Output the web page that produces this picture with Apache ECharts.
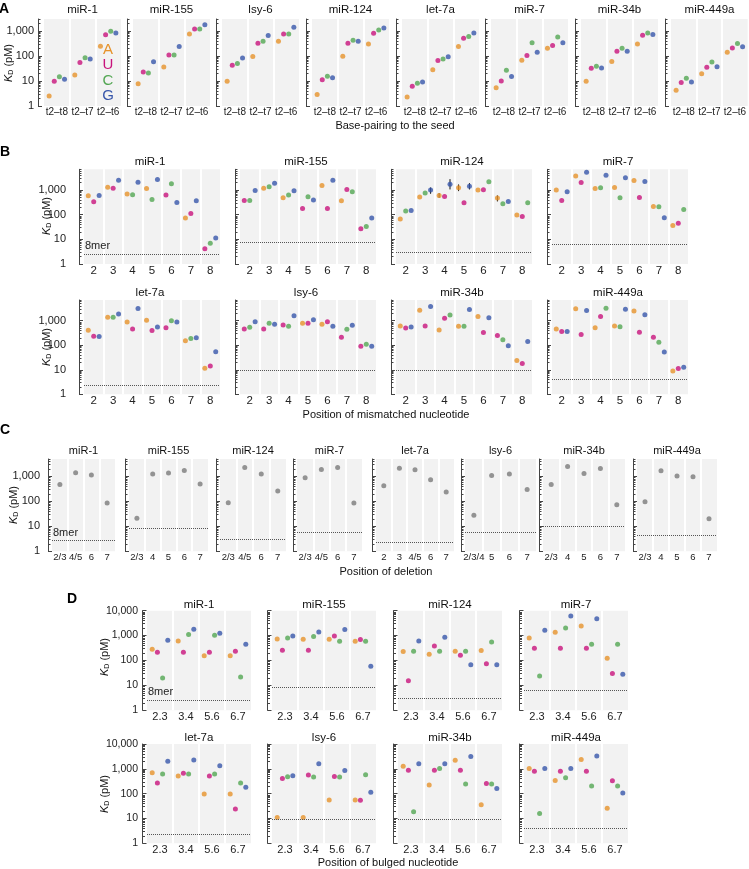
<!DOCTYPE html>
<html><head><meta charset="utf-8">
<script src="https://cdn.jsdelivr.net/npm/echarts@6/dist/echarts.min.js"></script>
<style>html,body{margin:0;padding:0;background:#fff}#c{width:749px;height:869px}</style>
</head><body><div id="c"></div>
<script>
const FONT = '"Liberation Sans", Arial, Helvetica, sans-serif';
const NUC_COLOR = {A:'#E6922A', U:'#C8137C', C:'#52A652', G:'#3756AA'};
const NUC_ORDER = ['A','U','C','G'];

// ---------- Panel A: base-pairing to the seed (values: [group][A,U,C,G], pM)
const A_MIRNAS = ['miR-1','miR-155','lsy-6','miR-124','let-7a','miR-7','miR-34b','miR-449a'];
const A_GROUPS = ['t2–t8','t2–t7','t2–t6'];
const A_miR1    = [[2.5,9.7,14.9,11.6],[17.3,55,85,75],[246,705,980,830]];
const A_miR155  = [[7.8,23,21,59],[36,108,108,238],[760,1200,1200,1780]];
const A_lsy6    = [[9.7,43,50,82],[95,325,390,650],[390,760,760,1400]];
const A_miR124  = [[2.9,11.3,15.3,13.6],[98,325,425,390],[304,810,1100,1310]];
const A_let7a   = [[2.3,6.1,8.1,9.1],[28,66,75,93],[238,510,595,830]];
const A_miR7    = [[5.4,10,27,15],[68,105,335,142],[205,261,575,335]];
const A_miR34b  = [[9.7,32,39,33],[60,156,205,156],[304,673,830,716]];
const A_miR449a = [[4.3,8.6,12.8,9.1],[19.5,35,57,37],[142,210,313,231]];
const A_VALUES = [A_miR1,A_miR155,A_lsy6,A_miR124,A_let7a,A_miR7,A_miR34b,A_miR449a];

// ---------- Panel B: mismatches (nucleotides per position, values per position)
const B_MIRNAS = ['miR-1','miR-155','miR-124','miR-7','let-7a','lsy-6','miR-34b','miR-449a'];
const B_POSITIONS = ['2','3','4','5','6','7','8'];
const B_miR1_nt = ['AUG','AUG','ACG','ACG','UCG','AUG','UCG'];
const B_miR1 = [[590,337,608],[1320,1200,2540],[690,650,2110],[1170,420,2700],[627,1800,316],[73,113,370],[4.2,6.9,11.3]];
const B_miR155_nt = ['UCG','ACG','ACG','UCG','AUG','AUC','UCG'];
const B_miR155 = [[380,380,970],[1200,1365,1900],[490,627,940],[180,537,393],[1550,180,2540],[370,1060,850],[27,33,73]];
const B_miR124_nt = ['ACG','ACG','AUG','AUG','AUC','ACG','AUC'];
const B_miR124 = [[67,141,150],[520,755,1000],[608,553,1750],[1240,306,1450],[1000,1030,2180],[474,280,347],[97,85,306]];
const B_miR7_nt = ['AUG','AUG','ACG','ACG','AUG','ACG','AUC'];
const B_miR7 = [[1000,380,860],[3700,2050,5370],[1170,1240,4060],[1280,490,3160],[2460,505,2240],[218,211,75],[37,45,164]];
const B_let7a_nt = ['AUG','ACG','AUG','AUG','UCG','ACG','AUG'];
const B_let7a = [[408,234,226],[1370,1370,1860],[885,462,3160],[1035,396,557],[523,1000,885],[151,188,200],[11.6,14.4,54]];
const B_lsy6_nt = ['UCG','UCG','UCG','AUG','AUG','UCG','UCG'];
const B_lsy6 = [[462,540,915],[462,783,713],[670,593,1600],[783,783,1100],[713,915,593],[213,448,650],[90,111,92]];
const B_miR34b_nt = ['AUG','AUG','AUC','ACG','AUG','UCG','AUG'];
const B_miR34b = [[611,507,557],[2700,611,3800],[421,1250,1700],[593,593,2880],[1500,329,1330],[249,166,95],[24,18,142]];
const B_miR449a_nt = ['AUG','AUG','AUC','ACG','AUG','UCG','AUG'];
const B_miR449a = [[462,361,361],[3060,273,2620],[523,1500,3260],[611,574,2970],[2470,339,1750],[213,134,53],[9.0,11.2,12.7]];
const B_NT = [B_miR1_nt,B_miR155_nt,B_miR124_nt,B_miR7_nt,B_let7a_nt,B_lsy6_nt,B_miR34b_nt,B_miR449a_nt];
const B_VALUES = [B_miR1,B_miR155,B_miR124,B_miR7,B_let7a,B_lsy6,B_miR34b,B_miR449a];
const B_8MER = [2.6,8.0,3.0,6.3,2.3,9.6,9.6,4.2];
// error bars for miR-124: [position index, slot, low, high]
const B_miR124_err = [[1,2,710,1280],[2,0,489,755],[2,2,1064,2790],[3,0,910,1700],[3,2,1064,1920],[5,0,347,608]];

// ---------- Panel C: deletions
const C_MIRNAS = ['miR-1','miR-155','miR-124','miR-7','let-7a','lsy-6','miR-34b','miR-449a'];
const C_miR1_pos = ['2/3','4/5','6','7'];          const C_miR1 = [479,1400,1130,86];
const C_miR155_pos = ['2/3','4','5','6','7'];      const C_miR155 = [21,1240,1360,1740,493];
const C_miR124_pos = ['2/3','4/5','6','7'];        const C_miR124 = [88,2290,1240,259];
const C_miR7_pos = ['2/3','4/5','6','7'];          const C_miR7 = [885,1900,2290,86];
const C_let7a_pos = ['2','3','4/5','6','7'];       const C_let7a = [423,2150,1850,736,236];
const C_lsy6_pos = ['2/3/4','5','6','7'];          const C_lsy6 = [28,1100,1240,302];
const C_miR34b_pos = ['2/3','4','5','6','7'];      const C_miR34b = [479,2510,1320,2090,74];
const C_miR449a_pos = ['2/3','4','5','6','7'];     const C_miR449a = [97,1690,1030,970,20];
const C_POS = [C_miR1_pos,C_miR155_pos,C_miR124_pos,C_miR7_pos,C_let7a_pos,C_lsy6_pos,C_miR34b_pos,C_miR449a_pos];
const C_VALUES = [C_miR1,C_miR155,C_miR124,C_miR7,C_let7a,C_lsy6,C_miR34b,C_miR449a];
const C_8MER = [2.7,8.3,3.0,5.8,2.4,5.8,10.3,4.5];

// ---------- Panel D: bulges ([group][A,U,C,G])
const D_MIRNAS = ['miR-1','miR-155','miR-124','miR-7','let-7a','lsy-6','miR-34b','miR-449a'];
const D_GROUPS = ['2.3','3.4','5.6','6.7'];
const D_miR1    = [[284,215,20,650],[612,215,1100,1790],[154,215,1030,1240],[154,236,21.5,450]];
const D_miR155  = [[736,259,807,970],[713,259,912,1400],[713,970,593,1740],[593,692,593,59]];
const D_miR124  = [[229,15.4,236,612],[179,386,236,858],[236,163,236,67],[251,74,558,67]];
const D_miR7    = [[807,311,23.6,1630],[1360,311,2030,6120],[2440,311,450,4790],[124,30,450,28]];
const D_let7a   = [[692,267,612,2030],[509,671,612,2290],[97,509,612,1320],[97,24,267,179]];
const D_lsy6    = [[11,410,479,525],[11,558,464,1585],[56,493,464,858],[56,54,575,113]];
const D_miR34b  = [[1280,885,18.5,1585],[222,885,1030,1585],[2220,885,244,3110],[36,259,244,163]];
const D_miR449a = [[1030,807,15.8,1030],[341,807,437,1030],[2360,807,203,3310],[26,331,203,106]];
const D_VALUES = [D_miR1,D_miR155,D_miR124,D_miR7,D_let7a,D_lsy6,D_miR34b,D_miR449a];
const D_8MER = [2.6,8.1,3.0,6.3,2.3,9.7,9.7,4.2];

const MAJOR_TICKS = [1,10,100,1000,10000];

// ---------- builder
const option = {animation:false, backgroundColor:'#fff', textStyle:{fontFamily:FONT},
  grid:[], xAxis:[], yAxis:[], series:[], graphic:[]};

function minorTicks(max){ const out=[]; for(let e=0;e<5;e++) for(let k=2;k<=9;k++){const v=k*Math.pow(10,e); if(v<=max*1.0001) out.push(v);} return out; }

function addPanel(p){
  const gi = option.grid.length;
  option.grid.push({left:p.left, top:p.top, width:p.width, height:p.height, show:true, backgroundColor:'#f2f2f2', borderWidth:0});
  const xi = option.xAxis.length;
  option.xAxis.push({type:'value', gridIndex:gi, min:0.5, max:p.labels.length+0.5, show:false, axisLine:{onZero:false}});
  option.xAxis.push({type:'category', gridIndex:gi, data:p.labels, position:'bottom',
    axisLine:{show:false, onZero:false}, axisTick:{show:false}, splitLine:{show:false},
    axisLabel:{interval:0, fontSize:p.xFont, color:'#222', margin:p.xMargin, fontFamily:FONT}});
  const yi = option.yAxis.length;
  const majors = MAJOR_TICKS.filter(v=>v<=p.max*1.0001);
  option.yAxis.push({type:'log', logBase:10, gridIndex:gi, position:'left', min:1, max:p.max, offset:p.yOffset,
    axisLine:{show:true, lineStyle:{color:'#444', width:1}},
    axisTick:{show:true, inside:true, length:4, lineStyle:{color:'#444'}, customValues:majors},
    axisLabel:{show:p.showY, customValues:majors, formatter:v=>Number(v).toLocaleString('en-US'),
      fontSize:p.yFont||11, color:'#222', margin:p.yMargin, fontFamily:FONT},
    splitLine:{show:false}, minorTick:{show:false}});
  option.yAxis.push({type:'log', logBase:10, gridIndex:gi, position:'left', min:1, max:p.max, offset:p.yOffset,
    axisLine:{show:false},
    axisTick:{show:true, inside:true, length:2.5, lineStyle:{color:'#444'}, customValues:minorTicks(p.max)},
    axisLabel:{show:false}, splitLine:{show:false}});
  const md = [];
  for(let i=1;i<p.labels.length;i++) md.push({xAxis:i+0.5, lineStyle:{color:'#ffffff', width:2, type:'solid'}, label:{show:false}});
  if(p.mer8!=null) md.push({yAxis:p.mer8, lineStyle:{color:'#555', width:1, type:'dotted'},
    label:p.mer8Label?{show:true, formatter:'8mer', position:'insideStartTop', distance:[1,2], color:'#222', fontSize:11, fontFamily:FONT}:{show:false}});
  if(p.err){
    option.series.push({type:'custom', xAxisIndex:xi, yAxisIndex:yi, z:2, data:p.err,
      renderItem:(params,api)=>{const a=api.coord([api.value(0),api.value(1)]); const b=api.coord([api.value(0),api.value(2)]);
        return {type:'line', shape:{x1:a[0],y1:a[1],x2:b[0],y2:b[1]}, style:{stroke:'#111', lineWidth:1}};}});
  }
  option.series.push({type:'scatter', xAxisIndex:xi, yAxisIndex:yi, symbolSize:5, z:3,
    data:p.points.map(pt=>({value:[pt.x,pt.y], itemStyle:{color:pt.color}})),
    markLine:{silent:true, symbol:['none','none'], animation:false, data:md}});
}
function addText(x,y,text,opts){
  option.graphic.push(Object.assign({type:'text', x:x, y:y, silent:true,
    style:Object.assign({text:text, fill:'#111', font:'11px '+FONT, textAlign:'center', textVerticalAlign:'middle'}, opts||{})}));
}
function addYName(x,y){
  option.graphic.push({type:'text', x:x, y:y, rotation:Math.PI/2, silent:true,
    style:{text:'{k|K}{d|D}{n| (pM)}', textAlign:'center', textVerticalAlign:'middle', fill:'#111',
      rich:{k:{fontStyle:'italic', fontSize:11, fontFamily:FONT, fill:'#111'},
            d:{fontSize:7, fontFamily:FONT, verticalAlign:'bottom', lineHeight:8, fill:'#111'},
            n:{fontSize:11, fontFamily:FONT, fill:'#111'}}}});
}
const OFF4 = [-0.3,-0.1,0.1,0.3];
const OFF3 = [-0.28,0,0.28];

// Panel A
const A_LEFTS = [44,133,222,312,402,491,581,671];
A_MIRNAS.forEach((name,i)=>{
  const pts=[]; A_VALUES[i].forEach((g,gi)=>g.forEach((v,k)=>pts.push({x:gi+1+OFF4[k], y:v, color:NUC_COLOR[NUC_ORDER[k]]})));
  addPanel({left:A_LEFTS[i], top:19, width:77, height:87, max:3000, labels:A_GROUPS, points:pts,
    showY:i===0, yOffset:6, yMargin:4, xFont:10, xMargin:1});
  addText(A_LEFTS[i]+38.5, 9.5, name, {font:'11.5px '+FONT});
});
addYName(9,63);
addText(395,126,'Base-pairing to the seed',{font:'11px '+FONT});
NUC_ORDER.forEach((n,k)=>addText(108, 50+15.3*k, n, {font:'15px '+FONT, fill:NUC_COLOR[n]}));

// Panel B
const B_LEFTS = [84,240,396,552];
B_MIRNAS.forEach((name,i)=>{
  const row = Math.floor(i/4), col = i%4;
  const top = row===0?169.3:300, h = row===0?94.7:94.3;
  const pts=[];
  B_VALUES[i].forEach((g,pi)=>g.forEach((v,k)=>pts.push({x:pi+1+OFF3[k], y:v, color:NUC_COLOR[B_NT[i][pi][k]]})));
  let err=null;
  if(name==='miR-124') err = B_miR124_err.map(e=>[e[0]+1+OFF3[e[1]], e[2], e[3]]);
  addPanel({left:B_LEFTS[col], top:top, width:136, height:h, max:7000, labels:B_POSITIONS, points:pts,
    showY:col===0, yOffset:5, yMargin:13, xFont:11.5, xMargin:1, mer8:B_8MER[i], mer8Label:i===0, err:err});
  addText(B_LEFTS[col]+66, row===0?162:292.5, name, {font:'11.5px '+FONT});
});
addYName(47,216); addYName(47,347);
addText(386,415,'Position of mismatched nucleotide',{font:'11px '+FONT});

// Panel C
const C_LEFTS = [52,129,220,297,376,465,543,637];
const C_WIDTHS = [63,79,66,65,78,71,82,80];
C_MIRNAS.forEach((name,i)=>{
  const pts = C_VALUES[i].map((v,pi)=>({x:pi+1, y:v, color:'#7a7a7a'}));
  addPanel({left:C_LEFTS[i], top:459, width:C_WIDTHS[i], height:92.3, max:5000, labels:C_POS[i], points:pts,
    showY:i===0, yOffset:4, yMargin:8, xFont:9.5, xMargin:1.5, mer8:C_8MER[i], mer8Label:i===0});
  addText(C_LEFTS[i]+C_WIDTHS[i]/2, 451, name, {font:'11px '+FONT});
});
addYName(14,505);
addText(386,572,'Position of deletion',{font:'11px '+FONT});

// Panel D
const D_LEFTS = [147,272,398,524];
D_MIRNAS.forEach((name,i)=>{
  const row = Math.floor(i/4), col = i%4;
  const top = row===0?610.7:744, h = row===0?99.6:99.3;
  const pts=[]; D_VALUES[i].forEach((g,gi)=>g.forEach((v,k)=>pts.push({x:gi+1+OFF4[k], y:v, color:NUC_COLOR[NUC_ORDER[k]]})));
  addPanel({left:D_LEFTS[col], top:top, width:104, height:h, max:10000, labels:D_GROUPS, points:pts,
    showY:col===0, yOffset:4.5, yMargin:4.5, yFont:10.5, xFont:11, xMargin:1, mer8:D_8MER[i], mer8Label:i===0});
  addText(D_LEFTS[col]+52, row===0?605:738, name, {font:'11.5px '+FONT});
});
addYName(105,657); addYName(105,794);
addText(388,863,'Position of bulged nucleotide',{font:'11px '+FONT});

// panel letters
[['A',4,9],['B',5,152],['C',5,430],['D',72,599]].forEach(l=>addText(l[1],l[2],l[0],{font:'bold 14px '+FONT, fill:'#000'}));

const chart = echarts.init(document.getElementById('c'), null, {renderer:'canvas'});
chart.setOption(option);
</script></body></html>
